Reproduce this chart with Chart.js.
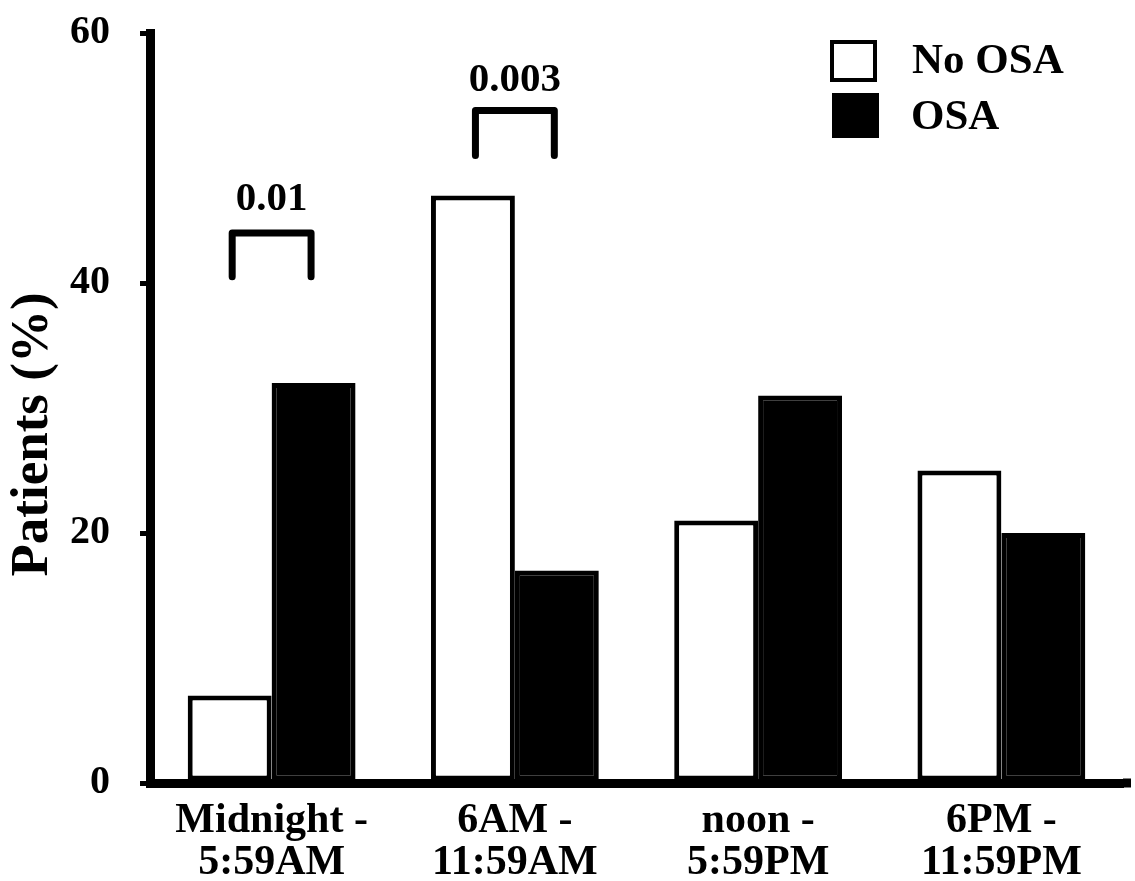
<!DOCTYPE html>
<html>
<head>
<meta charset="utf-8">
<script src="https://cdn.jsdelivr.net/npm/chart.js@4.4.1/dist/chart.umd.min.js"></script>
<style>
  html, body { margin: 0; padding: 0; background: #ffffff; }
  #wrap { width: 1135px; height: 881px; }
</style>
</head>
<body>
<div id="wrap"><canvas id="c" width="1135" height="881"></canvas></div>
<script>
// ---- data ----
const categories = [["Midnight -", "5:59AM"], ["6AM -", "11:59AM"], ["noon -", "5:59PM"], ["6PM -", "11:59PM"]];
const seriesNames = ["No OSA", "OSA"];
const noOsaValues = [7, 47, 21, 25];
const osaValues = [32, 17, 31, 20];
const yTickValues = [0, 20, 40, 60];
const yTitle = "Patients (%)";
const pValueLabels = ["0.01", "0.003"];
const pValueCategoryIndex = [0, 1];

// ---- annotation geometry (value units on the y scale) ----
const bracketGeom = [
  { top: 44.0, legBottom: 40.5, label: 46.7 },
  { top: 53.8, legBottom: 50.2, label: 56.2 }
];

const FONT = "'Liberation Serif', 'Times New Roman', serif";

const bracketPlugin = {
  id: 'brackets',
  afterDatasetsDraw(chart) {
    const ctx = chart.ctx;
    const y = chart.scales.y;
    const m0 = chart.getDatasetMeta(0), m1 = chart.getDatasetMeta(1);
    ctx.save();
    pValueLabels.forEach((txt, k) => {
      const i = pValueCategoryIndex[k];
      const b0 = m0.data[i], b1 = m1.data[i];
      const cx = (b0.x + b1.x) / 2;
      const half = b0.width * 0.47;
      const g = bracketGeom[k];
      const yt = y.getPixelForValue(g.top);
      const yb = y.getPixelForValue(g.legBottom);
      ctx.strokeStyle = '#000';
      ctx.lineWidth = 7;
      ctx.lineJoin = 'round';
      ctx.lineCap = 'round';
      ctx.beginPath();
      ctx.moveTo(cx - half, yb);
      ctx.lineTo(cx - half, yt);
      ctx.lineTo(cx + half, yt);
      ctx.lineTo(cx + half, yb);
      ctx.stroke();
      ctx.fillStyle = '#000';
      ctx.font = "bold 41px " + FONT;
      ctx.textAlign = 'center';
      ctx.textBaseline = 'middle';
      ctx.fillText(txt, cx, y.getPixelForValue(g.label));
    });
    ctx.restore();
  }
};

const legendPlugin = {
  id: 'boxLegend',
  afterDraw(chart) {
    const ctx = chart.ctx;
    ctx.save();
    // extend x axis line slightly past the plot, as in the original
    const xs = chart.scales.x;
    ctx.fillStyle = '#000';
    ctx.fillRect(chart.chartArea.right, xs.top - 4.5, 8, 9);

    const ds = chart.data.datasets;
    // first entry: outlined box
    ctx.lineWidth = 4;
    ctx.strokeStyle = ds[0].borderColor;
    ctx.fillStyle = ds[0].backgroundColor;
    ctx.fillRect(832, 42, 43, 38);
    ctx.strokeRect(832, 42, 43, 38);
    // second entry: filled box
    ctx.fillStyle = ds[1].backgroundColor;
    ctx.fillRect(832, 93, 47, 45);
    ctx.fillStyle = '#000';
    ctx.font = "bold 43px " + FONT;
    ctx.textAlign = 'left';
    ctx.textBaseline = 'middle';
    ctx.fillText(ds[0].label, 912, 62);
    ctx.fillText(ds[1].label, 911, 118);
    ctx.restore();
  }
};

new Chart(document.getElementById('c'), {
  type: 'bar',
  data: {
    labels: categories,
    datasets: [
      { label: seriesNames[0], data: noOsaValues, backgroundColor: '#ffffff', borderColor: '#000000', borderWidth: 5, borderSkipped: false },
      { label: seriesNames[1], data: osaValues, backgroundColor: '#000000', borderColor: '#000000', borderWidth: 5, borderSkipped: false }
    ]
  },
  options: {
    responsive: false,
    devicePixelRatio: 1,
    animation: false,
    layout: { padding: { left: 0, right: 12, top: 33, bottom: 0 } },
    plugins: {
      legend: { display: false },
      tooltip: { enabled: false }
    },
    datasets: { bar: { categoryPercentage: 0.69, barPercentage: 1.0 } },
    scales: {
      x: {
        grid: { display: false, drawTicks: false },
        border: { display: true, color: '#000', width: 9, z: 1 },
        ticks: {
          color: '#000',
          font: { family: FONT, size: 42, weight: 'bold', lineHeight: 1.0 },
          padding: 17,
          maxRotation: 0,
          autoSkip: false
        },
        afterFit(s) { s.height = 98; s.paddingLeft = 0; s.paddingRight = 0; }
      },
      y: {
        min: 0,
        max: 60,
        afterBuildTicks(s) { s.ticks = yTickValues.map(v => ({ value: v })); },
        grid: { display: true, drawOnChartArea: false, drawTicks: true, tickLength: 10, tickWidth: 5, tickColor: '#000', color: '#000', lineWidth: 5 },
        border: { display: true, color: '#000', width: 9, z: 1 },
        ticks: {
          color: '#000',
          font: { family: FONT, size: 40, weight: 'bold' },
          padding: 30
        },
        title: {
          display: true,
          text: yTitle + "    ",
          color: '#000',
          font: { family: FONT, size: 53, weight: 'bold', lineHeight: 1.2 },
          padding: { top: 2, bottom: 0 }
        },
        afterFit(s) { s.width = 150; s.paddingTop = 0; s.paddingBottom = 0; }
      }
    }
  },
  plugins: [bracketPlugin, legendPlugin]
});
</script>
</body>
</html>
